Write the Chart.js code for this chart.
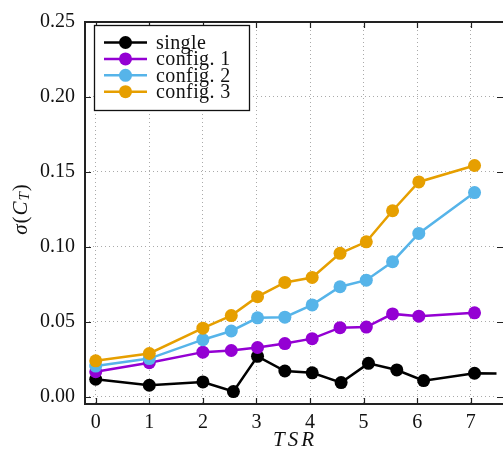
<!DOCTYPE html>
<html>
<head>
<meta charset="utf-8">
<script src="https://cdn.jsdelivr.net/npm/chart.js@4.4.1/dist/chart.umd.min.js"></script>
<style>
  html, body { margin: 0; padding: 0; background: #fff; }
  #wrap { width: 503px; height: 455px; }
</style>
</head>
<body>
<div id="wrap"><canvas id="chart" width="503" height="455"></canvas></div>
<script>
// данные (TSR -> sigma(C_T))
const seriesNames = ['single', 'config. 1', 'config. 2', 'config. 3'];
const seriesColors = ['#000000', '#9400D3', '#56B4E9', '#E69F00'];

const tsrSingle = [0, 1, 2, 2.57, 3.02, 3.53, 4.04, 4.58, 5.09, 5.62, 6.12, 7.07, 8];
const ctSingle  = [0.0117, 0.0077, 0.0099, 0.0035, 0.027, 0.0172, 0.016, 0.0095, 0.0223, 0.0179, 0.0108, 0.0157, 0.0152];

const tsrConfig = [0, 1, 2, 2.53, 3.02, 3.53, 4.04, 4.56, 5.05, 5.54, 6.03, 7.07];
const ctConfig1 = [0.0167, 0.0227, 0.0298, 0.0309, 0.0329, 0.0355, 0.0388, 0.0461, 0.0465, 0.0553, 0.0538, 0.056];
const ctConfig2 = [0.0205, 0.0255, 0.0381, 0.0439, 0.0527, 0.0531, 0.0613, 0.0734, 0.0778, 0.0901, 0.109, 0.1362];
const ctConfig3 = [0.024, 0.0289, 0.0458, 0.0542, 0.0668, 0.0763, 0.0796, 0.0957, 0.1034, 0.1241, 0.1433, 0.1543];

const xTicks = [0, 1, 2, 3, 4, 5, 6, 7];
const yTicks = [0, 0.05, 0.10, 0.15, 0.20, 0.25];

const FONT = '"Liberation Serif", "DejaVu Serif", serif';

function toPoints(xs, ys) {
    return xs.map((x, i) => ({ x: x, y: ys[i] }));
}

function makeSet(i, xs, ys) {
    return {
        label: seriesNames[i],
        data: toPoints(xs, ys),
        borderColor: seriesColors[i],
        backgroundColor: seriesColors[i],
        borderWidth: 2.5,
        pointRadius: 6.5,
        pointBorderWidth: 0,
        pointHoverRadius: 6.5,
        showLine: true,
        tension: 0,
        order: 3 - i
    };
}

// рамка + внутренние тики
const framePlugin = {
    id: 'frame',
    afterDatasetsDraw(chart) {
        const ctx = chart.ctx;
        const a = chart.chartArea;
        const xs = chart.scales.x;
        const ys = chart.scales.y;
        const rightEdge = 504;
        ctx.save();
        ctx.strokeStyle = '#222';
        ctx.lineWidth = 2;
        ctx.beginPath();
        ctx.moveTo(rightEdge, a.top);
        ctx.lineTo(a.left, a.top);
        ctx.lineTo(a.left, a.bottom);
        ctx.lineTo(rightEdge, a.bottom);
        ctx.stroke();

        ctx.lineWidth = 1.2;
        ctx.beginPath();
        xTicks.forEach(v => {
            const px = Math.round(xs.getPixelForValue(v)) + 0.5;
            ctx.moveTo(px, a.bottom); ctx.lineTo(px, a.bottom - 6);
            ctx.moveTo(px, a.top); ctx.lineTo(px, a.top + 6);
        });
        yTicks.forEach(v => {
            const py = Math.round(ys.getPixelForValue(v)) + 0.5;
            ctx.moveTo(a.left, py); ctx.lineTo(a.left + 6, py);
            ctx.moveTo(rightEdge, py); ctx.lineTo(rightEdge - 7, py);
        });
        ctx.stroke();

        // легенда
        const lx = 94.5, ly = 25.5, lw = 155, lh = 85;
        ctx.fillStyle = '#fff';
        ctx.fillRect(lx, ly, lw, lh);
        ctx.strokeStyle = '#111';
        ctx.lineWidth = 1.3;
        ctx.strokeRect(lx, ly, lw, lh);
        ctx.font = '20px ' + FONT;
        ctx.textBaseline = 'middle';
        ctx.textAlign = 'left';
        ctx.letterSpacing = '0.4px';
        seriesNames.forEach((name, i) => {
            const cy = 42.5 + i * 16.4;
            ctx.strokeStyle = seriesColors[i];
            ctx.lineWidth = 2.5;
            ctx.beginPath();
            ctx.moveTo(104, cy); ctx.lineTo(147, cy);
            ctx.stroke();
            ctx.fillStyle = seriesColors[i];
            ctx.beginPath();
            ctx.arc(125.5, cy, 6.5, 0, Math.PI * 2);
            ctx.fill();
            ctx.fillStyle = '#111';
            ctx.fillText(name, 156, cy + 1);
        });

        // подписи осей
        ctx.fillStyle = '#111';
        ctx.textAlign = 'center';
        ctx.font = 'italic 21px ' + FONT;
        ctx.letterSpacing = '3px';
        ctx.fillText('TSR', (a.left + 503) / 2 + 1, 440);

        ctx.translate(21, (a.top + a.bottom) / 2 - 4);
        ctx.rotate(-Math.PI / 2);
        ctx.textAlign = 'left';
        ctx.letterSpacing = '1px';
        const parts = [
            { t: 'σ', f: 'italic 21px ', dy: 0 },
            { t: '(', f: '21px ', dy: 0 },
            { t: 'C', f: 'italic 21px ', dy: 0 },
            { t: 'T', f: 'italic 15px ', dy: 4 },
            { t: ')', f: '21px ', dy: 0 }
        ];
        let total = 0;
        parts.forEach(p => { ctx.font = p.f + FONT; total += ctx.measureText(p.t).width; });
        let cx = -total / 2;
        parts.forEach(p => {
            ctx.font = p.f + FONT;
            ctx.fillText(p.t, cx, p.dy);
            cx += ctx.measureText(p.t).width;
        });
        ctx.restore();
    }
};

const ctx = document.getElementById('chart').getContext('2d');

new Chart(ctx, {
    type: 'scatter',
    data: {
        datasets: [
            makeSet(0, tsrSingle, ctSingle),
            makeSet(1, tsrConfig, ctConfig1),
            makeSet(2, tsrConfig, ctConfig2),
            makeSet(3, tsrConfig, ctConfig3)
        ]
    },
    options: {
        animation: false,
        responsive: false,
        layout: { padding: { top: 19, right: 0, left: 0, bottom: 0 } },
        plugins: {
            legend: { display: false },
            tooltip: { enabled: false }
        },
        scales: {
            x: {
                type: 'linear',
                min: -0.2,
                max: 7.48,
                afterBuildTicks: s => { s.ticks = xTicks.map(v => ({ value: v })); },
                afterFit: s => { s.height = 51; },
                grid: { color: '#aaaaaa', lineWidth: 1, drawTicks: false },
                border: { display: false, dash: [1, 3] },
                ticks: {
                    padding: 7,
                    color: '#111',
                    font: { family: FONT, size: 20 },
                    callback: v => String(v)
                }
            },
            y: {
                type: 'linear',
                min: -0.0048,
                max: 0.25,
                afterBuildTicks: s => { s.ticks = yTicks.map(v => ({ value: v })); },
                afterFit: s => { s.width = 85; },
                grid: { color: '#aaaaaa', lineWidth: 1, drawTicks: false },
                border: { display: false, dash: [1, 3] },
                ticks: {
                    padding: 10,
                    color: '#111',
                    font: { family: FONT, size: 20 },
                    callback: v => v.toFixed(2)
                }
            }
        }
    },
    plugins: [framePlugin]
});
</script>
</body>
</html>
